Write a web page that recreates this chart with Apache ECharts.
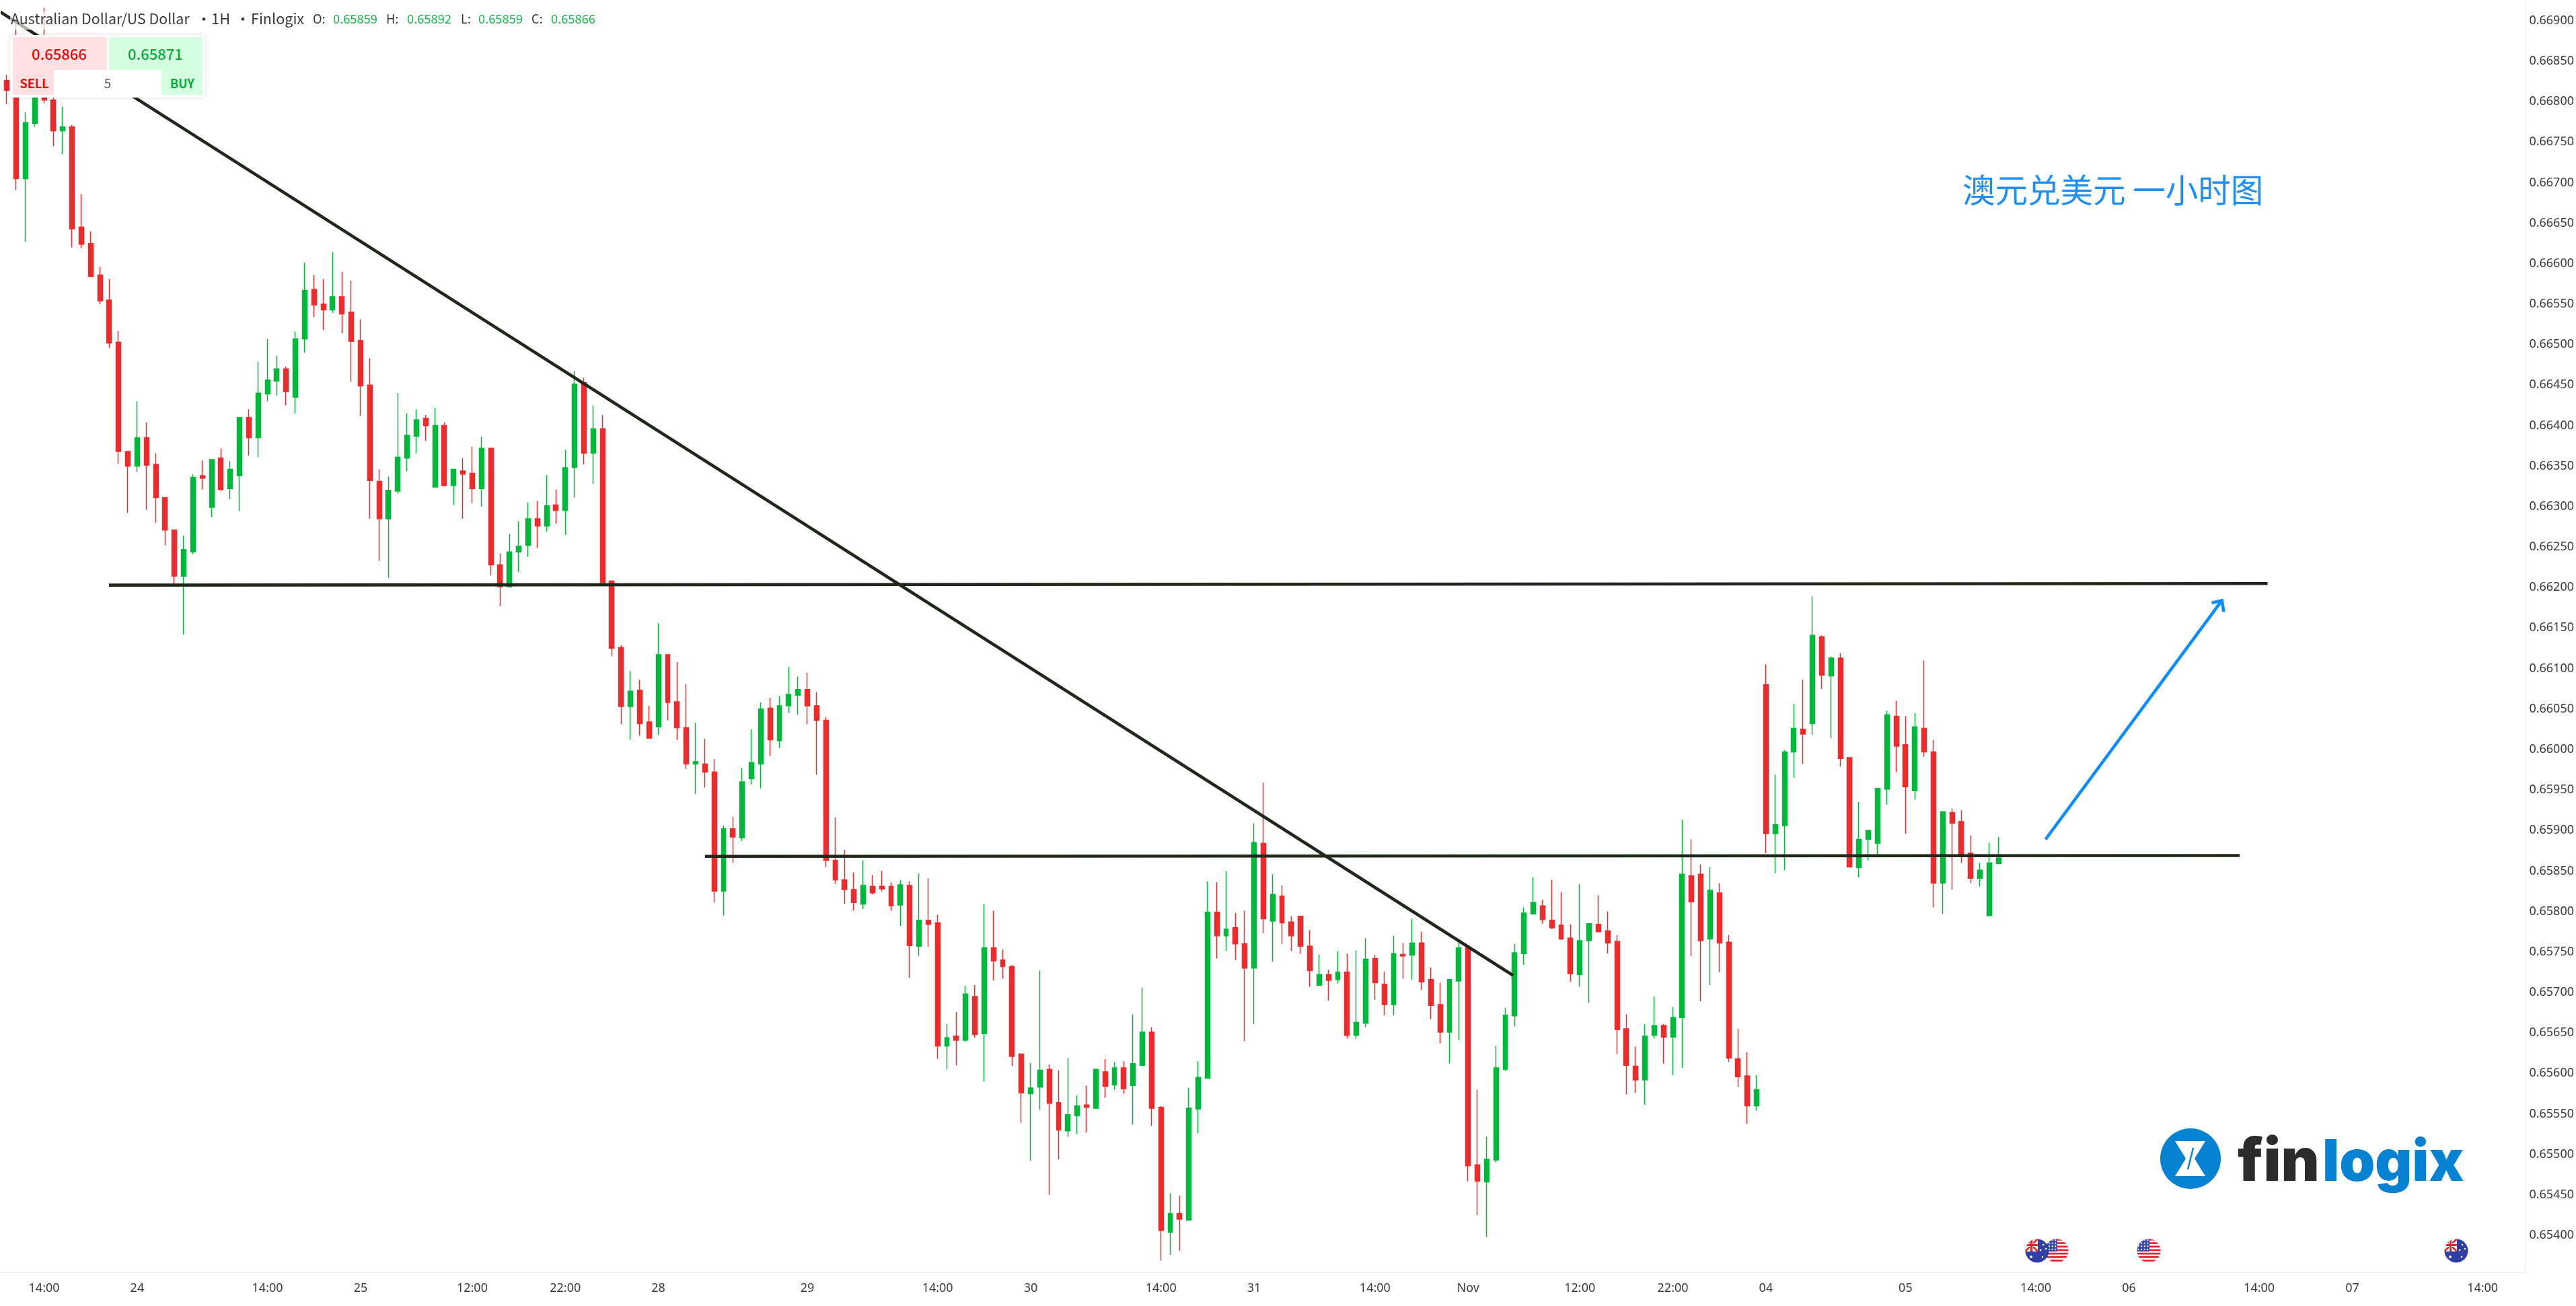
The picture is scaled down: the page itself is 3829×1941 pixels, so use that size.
<!DOCTYPE html>
<html>
<head>
<meta charset="utf-8">
<title>AUD/USD 1H</title>
<style>html,body{margin:0;padding:0;background:#fff}#chart{width:3829px;height:1941px}</style>
<script src="https://cdn.jsdelivr.net/npm/echarts@6/dist/echarts.min.js"></script>
</head>
<body>
<div id="chart"></div>
<script>
// Hourly AUD/USD candles, prices in units of 0.00001.
const openPts = [
66826,66814,66705,66773,66812,66802,66764,66769,66645,66625,
66586,66555,66503,66368,66350,66385,66352,66311,66271,66214,
66244,66338,66299,66360,66322,66338,66410,66385,66439,66455,
66470,66435,66507,66568,66550,66543,66559,66540,66505,66450,
66331,66285,66319,66360,66387,66409,66324,66400,66326,66344,
66341,66322,66372,66228,66201,66244,66252,66285,66276,66302,
66295,66348,66453,66366,66396,66208,66126,66053,66073,66034,
66028,66117,66059,66027,65982,65982,65972,65825,65902,65891,
65964,65982,66051,66011,66054,66067,66074,66054,66036,65863,
65839,65827,65809,65831,65831,65831,65808,65832,65757,65789,
65786,65634,65646,65641,65695,65649,65755,65740,65732,65624,
65575,65583,65605,65564,65529,65548,65561,65557,65602,65586,
65607,65585,65610,65651,65558,65404,65427,65419,65556,65594,
65799,65770,65780,65760,65730,65884,65788,65819,65787,65794,
65757,65709,65722,65716,65725,65647,65662,65742,65710,65685,
65747,65746,65761,65716,65685,65651,65714,65755,65487,65466,
65493,65605,65671,65748,65797,65807,65789,65783,65767,65722,
65764,65784,65776,65763,65655,65609,65592,65647,65659,65645,
65669,65844,65846,65766,65823,65762,65618,65597,65560,66080,
65896,65906,65997,66025,66032,66139,66091,66113,65990,65854,
65889,65884,65951,66041,66006,65949,66026,65997,65835,65922,
65911,65872,65841,65795,65859];
const closePts = [
66814,66705,66774,66813,66802,66764,66769,66643,66624,66584,
66554,66502,66368,66350,66385,66351,66311,66271,66214,66247,
66336,66335,66358,66321,66346,66410,66385,66440,66456,66470,
66442,66507,66567,66549,66543,66559,66538,66504,66449,66332,
66285,66320,66361,66388,66407,66400,66400,66326,66346,66340,
66322,66372,66228,66201,66244,66251,66285,66276,66301,66295,
66348,66451,66366,66396,66206,66125,66053,66072,66032,66014,
66117,66058,66027,65982,65985,65972,65825,65902,65892,65960,
65984,66050,66012,66054,66068,66074,66054,66036,65863,65839,
65827,65811,65832,65823,65828,65807,65833,65758,65789,65784,
65634,65644,65641,65698,65648,65755,65739,65732,65621,65576,
65582,65604,65563,65530,65549,65560,65558,65605,65584,65607,
65581,65612,65651,65557,65406,65427,65420,65557,65595,65799,
65770,65778,65760,65730,65885,65791,65821,65786,65770,65757,
65727,65722,65715,65725,65647,65663,65741,65712,65685,65748,
65745,65761,65713,65684,65651,65716,65755,65486,65467,65494,
65607,65672,65749,65798,65811,65790,65780,65766,65723,65764,
65785,65775,65761,65654,65610,65592,65646,65659,65645,65669,
65846,65812,65764,65826,65761,65619,65596,65560,65580,65896,
65907,65997,66026,66019,66141,66092,66113,65989,65855,65889,
65900,65952,66043,66004,65954,66028,65997,65835,65923,65909,
65870,65841,65851,65860,65866];
const lowPts = [
66797,66691,66627,66769,66798,66745,66735,66620,66619,66584,
66550,66496,66353,66292,66343,66296,66280,66252,66204,66142,
66241,66321,66287,66319,66309,66294,66363,66361,66430,66437,
66425,66415,66490,66534,66518,66539,66514,66454,66412,66285,
66233,66212,66316,66344,66366,66381,66324,66325,66302,66285,
66304,66300,66215,66177,66200,66219,66238,66249,66269,66279,
66265,66311,66352,66328,66206,66115,66031,66012,66017,66014,
66018,66036,66012,65976,65945,65953,65811,65795,65860,65887,
65957,65952,65992,66002,66045,66043,66031,65969,65855,65834,
65809,65801,65803,65821,65825,65801,65782,65718,65745,65756,
65618,65605,65610,65639,65644,65590,65715,65717,65609,65539,
65492,65555,65450,65494,65522,65525,65527,65556,65570,65580,
65575,65537,65609,65535,65369,65376,65381,65419,65526,65594,
65742,65751,65740,65640,65661,65773,65738,65760,65751,65748,
65707,65709,65690,65711,65643,65642,65657,65691,65672,65672,
65717,65716,65703,65667,65637,65612,65641,65467,65425,65398,
65490,65603,65658,65734,65797,65785,65778,65765,65713,65707,
65687,65775,65748,65624,65574,65576,65561,65643,65612,65598,
65607,65745,65689,65709,65725,65614,65583,65538,65554,65872,
65847,65851,65965,65982,66018,66075,66014,65979,65855,65842,
65863,65870,65932,65972,65896,65938,65991,65805,65797,65827,
65860,65835,65831,65795,65859];
const highPts = [
66833,66896,66787,66822,66916,66805,66794,66771,66686,66640,
66596,66581,66517,66368,66430,66404,66366,66311,66271,66264,
66340,66357,66358,66372,66356,66410,66420,66479,66507,66486,
66473,66516,66601,66586,66581,66614,66590,66579,66531,66483,
66346,66337,66440,66415,66420,66413,66422,66404,66346,66360,
66374,66386,66372,66242,66266,66282,66305,66307,66339,66321,
66370,66467,66459,66425,66413,66208,66129,66097,66086,66054,
66156,66117,66108,66081,66033,66013,65988,65906,65917,65977,
66025,66058,66064,66066,66102,66090,66095,66071,66040,65916,
65876,65848,65863,65845,65850,65836,65839,65837,65847,65841,
65796,65661,65676,65708,65709,65809,65801,65753,65734,65624,
65613,65727,65611,65604,65619,65573,65585,65605,65618,65614,
65615,65673,65706,65657,65560,65452,65449,65582,65615,65837,
65836,65850,65798,65801,65909,65959,65846,65832,65794,65794,
65777,65747,65728,65751,65748,65752,65767,65746,65726,65770,
65761,65791,65775,65731,65712,65716,65765,65755,65580,65522,
65634,65681,65760,65805,65842,65814,65839,65824,65784,65834,
65785,65820,65800,65771,65673,65633,65661,65695,65661,65682,
65913,65889,65858,65855,65835,65771,65655,65626,65598,66105,
65969,65999,66056,66086,66189,66141,66115,66119,65990,65935,
65900,65952,66048,66060,66041,66045,66110,66012,65923,65927,
65925,65894,65860,65885,65892];

// Time axis: bar slots on the axis, and the labelled ones.
const slotCount = 271;
const tickSlots = [4,14,28,38,50,60,70,86,100,110,124,134,147,157,169,179,189,204,218,228,242,252,266];
const tickTexts = ['14:00','24','14:00','25','12:00','22:00','28','29','14:00','30','14:00','31','14:00','Nov','12:00','22:00','04','05','14:00','06','14:00','07','14:00'];

// Hand-drawn studies as [bar slot, price in 0.00001].
const fallingTrend = [[-0.74,66911],[161.84,65721]];
const upperLevel = [[10.97,66203],[242.9,66205]];
const lowerLevel = [[75,65868],[239.9,65869]];
const projection = [[219.04,65889],[237.99,66184]];
const projectionHead = [[236.89,66181],[237.99,66184],[238.19,66170]];

// Quote header and order ticket readouts.
const symbolTitle = 'Australian Dollar/US Dollar';
const quote = {open:'0.65859', high:'0.65892', low:'0.65859', close:'0.65866'};
const sellPrice = '0.65866';
const buyPrice = '0.65871';
const chartNote = '澳元兑美元 一小时图';

const price = p => p / 100000;
const slots = Array.from({length: slotCount}, (_, i) => {
  const k = tickSlots.indexOf(i);
  return k < 0 ? '' : tickTexts[k];
});
const candles = openPts.map((o, i) => [price(o), price(closePts[i]), price(lowPts[i]), price(highPts[i])]);
const toLine = pts => pts.map(p => [p[0], price(p[1])]);

const UP = '#00b83a', DOWN = '#ec2b2d', INK = '#20281b', ARROW = '#0c8dff', TEXT = '#3a3a3a';
const UI = '"Noto Sans", sans-serif';
const HEAD = '"Noto Sans CJK SC", sans-serif';

function studyLine(data, color) {
  return {type: 'line', xAxisIndex: 1, yAxisIndex: 0, data: toLine(data), showSymbol: false, symbol: 'none',
    clip: false, silent: true, z: 5, animation: false,
    lineStyle: {color: color, width: 4.6, cap: 'butt', join: 'miter'}};
}

// Round event markers under the price pane.
function flagImage(kind) {
  let art;
  if (kind === 'au') {
    art = '<rect width="36" height="36" fill="#2f3fa6"/>' +
      '<rect width="19" height="19" fill="#fff"/>' +
      '<path d="M0 0L19 19M19 0L0 19" stroke="#e8222e" stroke-width="2.5"/>' +
      '<rect x="7" width="5" height="19" fill="#fff"/><rect y="7" width="19" height="5" fill="#fff"/>' +
      '<rect x="8" width="3" height="19" fill="#e8222e"/><rect y="8" width="19" height="3" fill="#e8222e"/>' +
      '<g fill="#fff"><circle cx="27" cy="9" r="1.3"/><circle cx="23" cy="17" r="1.3"/><circle cx="31" cy="15" r="1.3"/><circle cx="26" cy="27" r="1.3"/><circle cx="9" cy="27" r="2"/></g>';
  } else {
    let stripes = '<rect width="36" height="36" fill="#fff"/>';
    for (let i = 0; i < 7; i++) stripes += '<rect y="' + (i * 5.2) + '" width="36" height="2.7" fill="#e8222e"/>';
    let stars = '';
    for (let r = 0; r < 4; r++) for (let c = 0; c < 4; c++) stars += '<circle cx="' + (2.5 + c * 4.6) + '" cy="' + (2 + r * 4.6) + '" r="1.1" fill="#fff"/>';
    art = stripes + '<rect width="19" height="19" fill="#3a49a8"/>' + stars;
  }
  const svg = '<svg xmlns="http://www.w3.org/2000/svg" width="36" height="36"><defs><clipPath id="c"><circle cx="18" cy="18" r="17.5"/></clipPath></defs><g clip-path="url(#c)">' + art + '</g></svg>';
  return 'data:image/svg+xml;charset=utf-8,' + encodeURIComponent(svg);
}
const flag = (kind, cx) => ({type: 'image', z: 20, style: {image: flagImage(kind), x: cx - 18, y: 1841, width: 36, height: 36}});
const label = (x, y, text, fill, size, weight) => ({type: 'text', z: 60, style: {x: x, y: y, text: text, fill: fill, font: (weight || 400) + ' ' + (size || 18) + 'px ' + HEAD, verticalAlign: 'middle', align: 'left'}});
const centred = (x, y, text, fill, size, weight) => ({type: 'text', z: 60, style: {x: x, y: y, text: text, fill: fill, font: (weight || 400) + ' ' + (size || 18) + 'px ' + HEAD, verticalAlign: 'middle', align: 'center'}});
const box = (x, y, w, h, fill, r, extra) => ({type: 'rect', z: (extra && extra.z) || 50, shape: {x: x, y: y, width: w, height: h, r: r || 0}, style: Object.assign({fill: fill}, (extra && extra.style) || {})});

const GREEN_TEXT = '#16bb4c';
const overlays = [
  // pane borders
  box(0, 1890, 3755, 2, '#f3f3f3', 0, {z: 1}),
  box(3753, 4, 2, 1888, '#f3f3f3', 0, {z: 1}),
  // header strip
  box(15, 17, 880, 27, 'rgba(255,255,255,0.62)', 0, {z: 40}),
  label(16, 28, symbolTitle, '#3a3a3a', 21.4),
  label(292, 28, '•', '#3a3a3a', 22),
  label(314, 28, '1H', '#3a3a3a', 22),
  label(350, 28, '•', '#3a3a3a', 22),
  label(373, 28, 'Finlogix', '#3a3a3a', 21.6),
  label(465, 28, 'O:', '#3a3a3a', 18.3), label(495, 28, quote.open, GREEN_TEXT, 18.3),
  label(574, 28, 'H:', '#3a3a3a', 18.3), label(605, 28, quote.high, GREEN_TEXT, 18.3),
  label(685, 28, 'L:', '#3a3a3a', 18.3), label(711, 28, quote.low, GREEN_TEXT, 18.3),
  label(790, 28, 'C:', '#3a3a3a', 18.3), label(819, 28, quote.close, GREEN_TEXT, 18.3),
  // order ticket
  box(15, 52, 290, 93, '#fff', 5, {z: 50, style: {shadowBlur: 6, shadowColor: 'rgba(0,0,0,0.14)'}}),
  box(19, 55, 140, 86, '#ffe1e3', 2),
  box(162, 55, 139, 86, '#d4ffe0', 2),
  box(80, 104, 160, 37, '#fff'),
  centred(88, 81, sellPrice, '#ff0000', 22, 500),
  centred(231, 81, buyPrice, '#00b035', 22, 500),
  centred(51, 124, 'SELL', '#ff0000', 18, 700),
  centred(271, 124, 'BUY', '#00b035', 18, 700),
  centred(160, 124, '5', '#555', 19),
  // chart note
  {type: 'text', z: 30, style: {x: 2917, y: 283, text: chartNote, fill: '#1e90f5', font: '400 48.5px "Noto Sans CJK SC", sans-serif', verticalAlign: 'middle', align: 'left'}},
  // brand mark
  {type: 'circle', z: 30, shape: {cx: 3256, cy: 1722, r: 45}, style: {fill: '#0583d2'}},
  {type: 'polygon', z: 31, shape: {points: [[3233,1696],[3278,1696],[3262,1722],[3278,1748],[3233,1748],[3249,1722]]}, style: {fill: '#fff'}},
  {type: 'polyline', z: 32, shape: {points: [[3260,1706],[3256,1722],[3252,1738]]}, style: {stroke: '#0583d2', lineWidth: 2.5, fill: 'none'}},
  {type: 'text', z: 30, style: {x: 3326, y: 1729, text: 'fin', fill: '#2b2b2b', font: '900 88px Inter, sans-serif', verticalAlign: 'middle', align: 'left'}},
  {type: 'text', z: 30, style: {x: 3452, y: 1729, text: 'logix', fill: '#0583d2', font: '900 85px Inter, sans-serif', verticalAlign: 'middle', align: 'left'}},
  // event markers
  flag('us', 3057), flag('au', 3028), flag('us', 3194), flag('au', 3651)
];

const chart = echarts.init(document.getElementById('chart'), null, {renderer: 'canvas'});
chart.setOption({
  animation: false,
  backgroundColor: '#fff',
  grid: {left: 3.3, right: 75, top: 4, bottom: 44.8, containLabel: false},
  xAxis: [
    {type: 'category', data: slots, boundaryGap: true, axisLine: {show: false}, axisTick: {show: false}, splitLine: {show: false},
     axisLabel: {interval: 0, color: TEXT, fontFamily: UI, fontSize: 18, margin: 10, hideOverlap: false}},
    {type: 'value', min: -0.5, max: slotCount - 0.5, show: false, splitLine: {show: false}}
  ],
  yAxis: {type: 'value', position: 'right', min: 0.6535, max: 0.669222, interval: 0.0005,
    axisLine: {show: false}, axisTick: {show: false}, splitLine: {show: false},
    axisLabel: {color: TEXT, fontFamily: UI, fontSize: 18, margin: 7, showMinLabel: false, showMaxLabel: false,
      padding: [2, 0, 0, 0], formatter: v => v.toFixed(5)}},
  series: [
    {type: 'candlestick', data: candles, barWidth: 7.4, silent: true, clip: false, z: 2,
     itemStyle: {color: UP, color0: DOWN, borderColor: UP, borderColor0: DOWN, borderWidth: 1.5}},
    studyLine(fallingTrend, INK),
    studyLine(upperLevel, INK),
    studyLine(lowerLevel, INK),
    studyLine(projection, ARROW),
    studyLine(projectionHead, ARROW)
  ],
  graphic: {elements: overlays}
});
</script>
</body>
</html>
